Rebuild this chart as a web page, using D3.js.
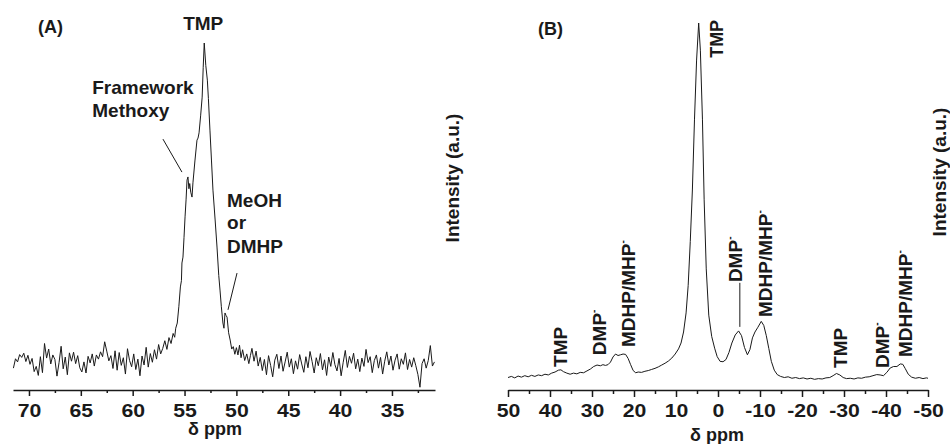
<!DOCTYPE html>
<html>
<head>
<meta charset="utf-8">
<script src="https://cdn.jsdelivr.net/npm/d3@7"></script>
<style>
  body { margin: 0; background: #fff; }
  text { font-family: "Liberation Sans", Arial, sans-serif; font-weight: bold; fill: #1a1a1a; }
</style>
</head>
<body>
<script>
// ---- panel A : [chemical shift (ppm), intensity (a.u.)]
var spectrumA = [
  [71.5,6.3],[71.3,9.0],[71.1,8.1],[70.9,10.2],[70.7,9.4],[70.5,10.6],[70.3,8.2],[70.1,10.0],[69.9,7.4],[69.7,9.1],
  [69.5,5.3],[69.3,6.8],[69.1,4.2],[68.9,9.6],[68.7,5.0],[68.5,13.4],[68.3,9.2],[68.1,11.8],[67.9,7.5],[67.7,10.1],
  [67.5,8.8],[67.3,4.0],[67.1,7.9],[66.9,12.6],[66.7,6.1],[66.5,9.5],[66.3,4.4],[66.1,10.7],[65.9,8.3],[65.7,10.9],
  [65.5,7.6],[65.3,9.9],[65.1,6.4],[64.9,5.2],[64.7,8.1],[64.5,4.9],[64.3,9.7],[64.1,7.8],[63.9,10.4],[63.7,6.9],
  [63.5,10.1],[63.3,8.9],[63.1,11.0],[62.9,9.6],[62.7,13.9],[62.5,11.2],[62.3,8.4],[62.1,9.9],[61.9,6.2],[61.7,11.3],
  [61.5,5.7],[61.3,10.8],[61.1,7.1],[60.9,9.3],[60.7,4.6],[60.5,11.9],[60.3,8.5],[60.1,6.7],[59.9,10.4],[59.7,5.9],
  [59.5,8.9],[59.3,4.1],[59.1,9.8],[58.9,7.2],[58.7,12.3],[58.5,6.6],[58.3,10.5],[58.1,8.0],
  [57.9,11.6],[57.7,8.9],[57.5,13.1],[57.3,10.4],[57.1,12.0],[56.9,14.2],[56.7,11.7],[56.5,15.1],[56.3,13.4],[56.1,16.3],
  [55.95,15.2],[55.85,17.8],[55.7,19.3],
  [55.55,24.0],[55.4,29.7],[55.3,31.5],[55.25,36.6],[55.15,38.3],[55.05,44.0],[54.95,49.9],[54.85,55.0],[54.76,60.5],[54.67,61.4],
  [54.58,58.0],[54.5,59.5],[54.4,57.0],[54.28,55.6],[54.19,59.7],[54.0,66.0],[53.8,72.0],[53.7,72.6],[53.6,74.1],[53.45,79.0],
  [53.3,84.4],[53.2,93.0],[53.1,100],[52.95,93.5],[52.8,89.3],[52.7,84.0],[52.55,74.9],[52.4,66.0],[52.26,57.6],[52.05,49.0],
  [51.87,41.2],[51.7,33.0],[51.58,28.8],[51.45,24.0],[51.3,19.3],[51.2,17.8],[51.1,22.2],[51.0,21.5],[50.9,21.0],[50.75,16.5],
  [50.6,14.4],[50.45,11.8],[50.3,12.5],[50.15,10.3],[50.0,12.2],[49.85,10.1],[49.7,12.9],[49.55,9.3],[49.4,11.6],[49.2,8.5],
  [49.0,10.4],[48.8,7.6],[48.65,9.9],
  [48.5,12.0],[48.3,8.3],[48.1,11.2],[47.9,6.9],[47.7,9.4],[47.5,5.6],[47.3,8.8],[47.1,4.4],[46.9,9.9],[46.7,7.1],
  [46.5,3.8],[46.3,8.6],[46.1,10.3],[45.9,6.2],[45.7,9.8],[45.5,5.4],[45.3,8.1],[45.1,10.9],[44.9,6.6],[44.7,9.0],
  [44.5,4.7],[44.3,8.4],[44.1,6.0],[43.9,10.2],[43.7,7.5],[43.5,5.1],[43.3,9.6],[43.1,6.4],[42.9,11.1],[42.7,8.2],
  [42.5,4.9],[42.3,9.3],[42.1,7.0],[41.9,10.5],[41.7,5.8],[41.5,8.7],[41.3,4.2],[41.1,9.5],[40.9,6.8],[40.7,10.8],
  [40.5,7.3],[40.3,5.5],[40.1,9.1],[39.9,4.1],[39.7,8.0],[39.5,11.4],[39.3,6.5],[39.1,9.7],[38.9,7.7],[38.7,10.6],
  [38.5,6.1],[38.3,8.9],[38.1,5.3],[37.9,9.2],[37.7,6.8],[37.5,11.7],[37.3,7.9],[37.1,9.6],[36.9,5.0],[36.7,8.5],
  [36.5,10.1],[36.3,6.3],[36.1,9.4],[35.9,4.6],[35.7,8.3],[35.5,11.0],[35.3,7.2],[35.1,9.8],[34.9,5.7],[34.7,8.6],
  [34.5,10.4],[34.3,6.0],[34.1,9.0],[33.9,7.4],[33.7,10.7],[33.5,5.9],[33.3,8.8],[33.1,6.6],[32.9,9.3],[32.7,7.0],
  [32.5,4.5],[32.3,0.8],[32.1,7.6],[31.9,9.0],[31.7,6.3],[31.5,8.5],[31.3,12.8],[31.1,6.9],[30.9,8.1]
];
var ticksA = [70, 65, 60, 55, 50, 45, 40, 35];
var minorA = [67.5, 62.5, 57.5, 52.5, 47.5, 42.5, 37.5, 32.5];

// ---- panel B : [chemical shift (ppm), intensity (a.u.)]
var spectrumB = [
  [50.0,3.4],[49.2,3.7],[48.4,3.3],[47.6,3.8],[46.8,3.5],[46.0,3.9],[45.2,3.6],[44.4,4.0],[43.6,3.7],[42.8,4.1],
  [42.0,3.9],[41.2,4.3],[40.4,4.1],[39.6,4.6],[38.8,4.9],[38.0,5.4],[37.4,5.5],[36.8,5.0],[36.0,4.6],[35.2,4.3],
  [34.4,4.6],[33.6,4.4],[32.8,4.8],[32.0,4.7],[31.2,5.2],[30.4,5.7],[29.6,6.4],[28.8,6.8],[28.0,6.6],[27.4,6.9],
  [26.8,6.7],[26.2,6.9],[25.6,7.6],[25.0,9.0],[24.4,9.8],[23.8,9.4],[23.2,9.6],[22.6,9.8],[22.0,9.7],[21.4,8.6],
  [20.8,6.9],[20.2,5.3],[19.6,4.7],[19.0,4.9],[18.2,4.8],[17.4,5.1],[16.6,5.3],[15.8,5.6],[15.0,5.9],[14.2,6.3],
  [13.4,6.8],[12.6,7.3],[11.8,7.9],[11.0,8.7],[10.2,9.8],[9.4,11.2],[8.8,12.8],[8.2,15.8],[7.6,21.0],[7.1,28.5],
  [6.6,40.5],[6.1,54.5],[5.6,73.6],[5.1,89.9],[4.6,100],[4.2,92.6],[3.7,73.6],[3.3,52.0],[2.8,33.0],[2.2,20.4],
  [1.5,14.6],[0.8,11.4],[0.2,9.1],[-0.5,7.8],[-1.2,7.7],[-1.9,8.3],[-2.6,10.2],[-3.3,12.8],[-4.1,15.0],[-4.9,16.1],
  [-5.6,14.8],[-6.3,11.6],[-7.0,9.6],[-7.6,11.0],[-8.2,14.2],[-8.8,15.8],[-9.5,17.1],[-10.3,18.7],[-10.9,17.6],[-11.5,14.8],
  [-12.1,11.3],[-12.7,7.8],[-13.4,5.4],[-14.1,4.2],[-14.9,3.7],[-15.8,3.4],[-16.7,3.6],[-17.6,3.2],[-18.5,3.4],[-19.4,3.1],
  [-20.3,3.3],[-21.2,3.0],[-22.1,3.2],[-23.0,2.9],[-23.9,3.1],[-24.8,3.0],[-25.7,3.3],[-26.6,3.4],[-27.4,3.9],[-28.2,4.5],
  [-29.0,4.1],[-29.8,3.4],[-30.6,3.1],[-31.5,3.2],[-32.4,3.0],[-33.3,3.3],[-34.2,3.2],[-35.1,3.5],[-36.0,3.6],[-36.9,3.9],
  [-37.8,4.2],[-38.6,4.1],[-39.4,3.9],[-40.2,4.8],[-41.0,6.0],[-41.8,6.4],[-42.6,6.4],[-43.4,7.1],[-44.0,7.0],[-44.6,5.8],
  [-45.3,4.3],[-46.1,3.5],[-47.0,3.2],[-47.9,3.4],[-48.8,3.1],[-49.6,3.3],[-50.0,3.2]
];
var ticksB = [50, 40, 30, 20, 10, 0, -10, -20, -30, -40, -50];
var minorB = [45, 35, 25, 15, 5, -5, -15, -25, -35, -45];

// peak assignments in B: label, charge, ppm, intensity at label foot
var labelNamesB = ["TMP", "DMP", "MDHP/MHP", "TMP", "DMP", "MDHP/MHP", "TMP", "DMP", "MDHP/MHP"];
var labelChargeB = ["", "-", "-", "", "-", "-", "", "-", "-"];
var labelPpmB = [37.5, 28.2, 21.5, 0.4, -4.2, -11.3, -29.0, -39.2, -44.6];
var labelLevelB = [6.3, 9.5, 11.7, 90.5, 29.4, 19.9, 6.0, 6.0, 9.0];

var W = 950, H = 444, axisY = 390;

var svg = d3.select("body").append("svg")
  .attr("width", W)
  .attr("height", H);

var xA = d3.scaleLinear().domain([71.54, 30.85]).range([13, 435]);
var yA = d3.scaleLinear().domain([0, 100]).range([axisY, 43]);
var xB = d3.scaleLinear().domain([50, -50]).range([508, 928]);
var yB = d3.scaleLinear().domain([0, 100]).range([axisY, 23]);

function axes(scale, major, minor, bigTick, smallTick, pad) {
  var g = svg.append("g")
    .attr("transform", "translate(0," + axisY + ")");
  g.call(d3.axisBottom(scale).tickValues(minor).tickSize(smallTick).tickSizeOuter(0).tickFormat(""));
  g.select(".domain").remove();
  var g2 = svg.append("g")
    .attr("transform", "translate(0," + axisY + ")")
    .call(d3.axisBottom(scale).tickValues(major).tickSize(bigTick).tickSizeOuter(0)
      .tickPadding(pad).tickFormat(function(d) { return String(d); }));
  svg.selectAll(".tick line, .domain").attr("stroke", "#1a1a1a").attr("stroke-width", 1.5);
  g2.selectAll("text")
    .attr("font-size", 18)
    .attr("transform", "scale(1.18,1)")
    .attr("fill", "#1a1a1a");
  g2.attr("font-family", null).attr("font-size", null);
}

axes(xA, ticksA, minorA, 6, 3, 8);
axes(xB, ticksB, minorB, 7, 4, 7);

// spectra
svg.append("path")
  .datum(spectrumA)
  .attr("fill", "none")
  .attr("stroke", "#1a1a1a")
  .attr("stroke-width", 1)
  .attr("d", d3.line().x(function(d) { return xA(d[0]); }).y(function(d) { return yA(d[1]); }));

svg.append("path")
  .datum(spectrumB)
  .attr("fill", "none")
  .attr("stroke", "#1a1a1a")
  .attr("stroke-width", 1)
  .attr("d", d3.line().x(function(d) { return xB(d[0]); }).y(function(d) { return yB(d[1]); }));

// axis titles
svg.append("text").attr("x", 215).attr("y", 435).attr("text-anchor", "middle")
  .attr("font-size", 18).text("δ ppm");
svg.append("text").attr("x", 717).attr("y", 441).attr("text-anchor", "middle")
  .attr("font-size", 18).text("δ ppm");

svg.append("text").attr("transform", "translate(459,178) rotate(-90)")
  .attr("text-anchor", "middle").attr("font-size", 19).text("Intensity (a.u.)");
svg.append("text").attr("transform", "translate(946,172) rotate(-90)")
  .attr("text-anchor", "middle").attr("font-size", 19).text("Intensity (a.u.)");

// panel letters
svg.append("text").attr("x", 38).attr("y", 33).attr("font-size", 18).text("(A)");
svg.append("text").attr("x", 538).attr("y", 35).attr("font-size", 18).text("(B)");

// panel A annotations
svg.append("text").attr("x", xA(53.2)).attr("y", yA(103.7)).attr("text-anchor", "middle")
  .attr("font-size", 19).text("TMP");

var fw = svg.append("text").attr("font-size", 19);
fw.append("tspan").attr("x", xA(63.9)).attr("y", yA(85.3)).text("Framework");
fw.append("tspan").attr("x", xA(63.9)).attr("dy", 23).text("Methoxy");

var me = svg.append("text").attr("font-size", 19);
me.append("tspan").attr("x", xA(50.9)).attr("y", yA(52.7)).text("MeOH");
me.append("tspan").attr("x", xA(50.9)).attr("dy", 22).text("or");
me.append("tspan").attr("x", xA(50.9)).attr("dy", 24).text("DMHP");

svg.append("line")
  .attr("x1", xA(57.08)).attr("y1", yA(72.3)).attr("x2", xA(55.25)).attr("y2", yA(62.8))
  .attr("stroke", "#1a1a1a").attr("stroke-width", 1);
svg.append("line")
  .attr("x1", xA(49.94)).attr("y1", yA(33.7)).attr("x2", xA(50.81)).attr("y2", yA(23.1))
  .attr("stroke", "#1a1a1a").attr("stroke-width", 1);

// panel B annotations (rotated)
labelNamesB.forEach(function(name, i) {
  var t = svg.append("text")
    .attr("transform", "translate(" + xB(labelPpmB[i]) + "," + yB(labelLevelB[i]) + ") rotate(-90)")
    .attr("dy", "0.36em")
    .attr("font-size", i === 3 ? 18 : 19)
    .text(name);
  if (labelChargeB[i]) {
    t.append("tspan").attr("font-size", 10).attr("dy", "-0.9em").text(labelChargeB[i]);
  }
});

// pointer for the DMP- shoulder near -5 ppm
svg.append("line")
  .attr("x1", xB(-5.2)).attr("y1", yB(29.2)).attr("x2", xB(-5.2)).attr("y2", yB(17.2))
  .attr("stroke", "#1a1a1a").attr("stroke-width", 1);
</script>
</body>
</html>
